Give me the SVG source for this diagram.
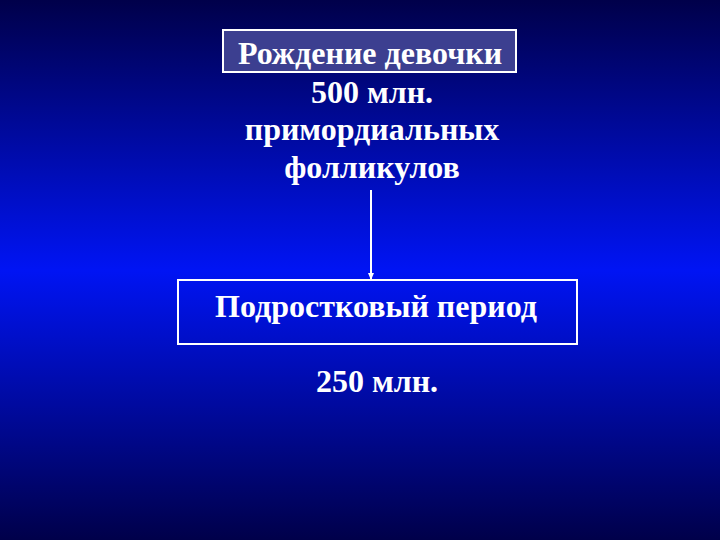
<svg xmlns="http://www.w3.org/2000/svg" width="720" height="540" viewBox="0 0 720 540">
<defs>
<linearGradient id="bg" x1="0" y1="0" x2="0" y2="1">
<stop offset="0" stop-color="#00004a"/>
<stop offset="0.5" stop-color="#0014f4"/>
<stop offset="1" stop-color="#00004a"/>
</linearGradient>
<marker id="arr" markerWidth="8" markerHeight="8" refX="7" refY="4" orient="auto" markerUnits="userSpaceOnUse">
<path d="M0,1 L7,4 L0,7 Z" fill="#ffffff"/>
</marker>
</defs>
<style>
text{font-family:"Liberation Serif","Times New Roman",serif;font-weight:bold;fill:#ffffff;font-size:32px;text-anchor:middle}
.box{stroke:#ffffff;stroke-width:2}
</style>
<rect width="720" height="540" fill="url(#bg)"/>
<g id="connectors">
<line x1="371" y1="190" x2="371" y2="280" stroke="#ffffff" stroke-width="2" marker-end="url(#arr)"/>
</g>
<g id="node-birth">
<rect class="box" x="223" y="30" width="293" height="42" fill="#3c3f90"/>
<text x="370" y="64">Рождение девочки</text>
<text x="372" y="103">500 млн.</text>
<text x="372" y="140">примордиальных</text>
<text x="372" y="178">фолликулов</text>
</g>
<g id="node-teen">
<rect class="box" x="178" y="280" width="399" height="64" fill="none"/>
<text x="376" y="317">Подростковый период</text>
<text x="377" y="392">250 млн.</text>
</g>
</svg>
